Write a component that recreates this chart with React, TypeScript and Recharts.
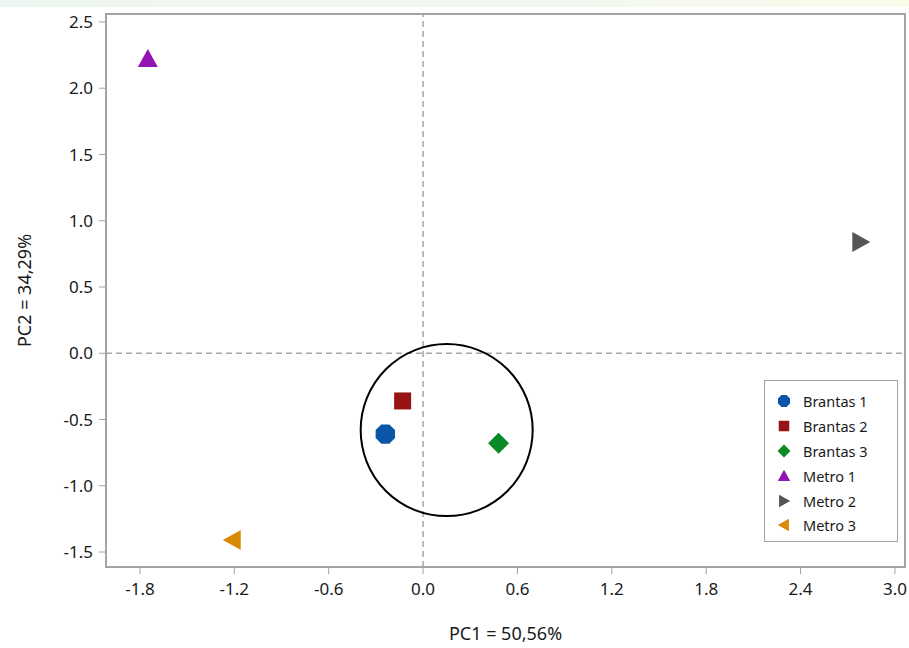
import {
  ScatterChart,
  Scatter,
  XAxis,
  YAxis,
  ReferenceLine,
  ReferenceArea,
  ReferenceDot,
  Label,
} from 'recharts';

// PCA scores (PC1, PC2)
const brantas1 = [{ pc1: -0.24, pc2: -0.61 }];
const brantas2 = [{ pc1: -0.13, pc2: -0.36 }];
const brantas3 = [{ pc1: 0.48, pc2: -0.68 }];
const metro1 = [{ pc1: -1.75, pc2: 2.22 }];
const metro2 = [{ pc1: 2.78, pc2: 0.84 }];
const metro3 = [{ pc1: -1.21, pc2: -1.41 }];

const xTicks = [-1.8, -1.2, -0.6, 0.0, 0.6, 1.2, 1.8, 2.4, 3.0];
const yTicks = [-1.5, -1.0, -0.5, 0.0, 0.5, 1.0, 1.5, 2.0, 2.5];
const xDomain: [number, number] = [-2.016, 3.064];
const yDomain: [number, number] = [-1.613, 2.56];

// cluster ring around the Brantas group
const ringCenter = { pc1: 0.15, pc2: -0.58 };

type Kind = 'octagon' | 'square' | 'diamond' | 'up' | 'right' | 'left';

const series: { name: string; color: string; kind: Kind; data: { pc1: number; pc2: number }[] }[] = [
  { name: 'Brantas 1', color: '#0a55a8', kind: 'octagon', data: brantas1 },
  { name: 'Brantas 2', color: '#981414', kind: 'square', data: brantas2 },
  { name: 'Brantas 3', color: '#088a26', kind: 'diamond', data: brantas3 },
  { name: 'Metro 1', color: '#9512b5', kind: 'up', data: metro1 },
  { name: 'Metro 2', color: '#555555', kind: 'right', data: metro2 },
  { name: 'Metro 3', color: '#d98a05', kind: 'left', data: metro3 },
];

const FONT = '"Noto Sans", "Open Sans", sans-serif';
const FRAME = '#a3a3a3';

function pts(list: number[][]) {
  return list.map((p) => p.join(',')).join(' ');
}

function marker(kind: Kind, cx: number, cy: number, s: number, color: string) {
  switch (kind) {
    case 'octagon': {
      const r = 10.5 * s;
      const p = Array.from({ length: 8 }, (_, i) => {
        const a = ((22.5 + 45 * i) * Math.PI) / 180;
        return [cx + r * Math.cos(a), cy + r * Math.sin(a)];
      });
      return <polygon points={pts(p)} fill={color} />;
    }
    case 'square': {
      const h = 8.5 * s;
      return <rect x={cx - h} y={cy - h} width={2 * h} height={2 * h} fill={color} />;
    }
    case 'diamond': {
      const h = 10.5 * s;
      return <polygon points={pts([[cx, cy - h], [cx + h, cy], [cx, cy + h], [cx - h, cy]])} fill={color} />;
    }
    case 'up':
      return <polygon points={pts([[cx, cy - 10 * s], [cx + 10 * s, cy + 8 * s], [cx - 10 * s, cy + 8 * s]])} fill={color} />;
    case 'right':
      return <polygon points={pts([[cx + 10 * s, cy], [cx - 8 * s, cy - 10 * s], [cx - 8 * s, cy + 10 * s]])} fill={color} />;
    case 'left':
      return <polygon points={pts([[cx - 10 * s, cy], [cx + 8 * s, cy - 10 * s], [cx + 8 * s, cy + 10 * s]])} fill={color} />;
  }
}

function LegendBox() {
  return (
    <div
      style={{
        position: 'absolute',
        left: 764,
        top: 380,
        boxSizing: 'border-box',
        width: 134,
        height: 162,
        border: `1.5px solid ${FRAME}`,
        background: '#fff',
        padding: '8px 0 0 10px',
        fontFamily: FONT,
        fontSize: 14.5,
        color: '#1a1a1a',
      }}
    >
      {series.map((s) => (
        <div key={s.name} style={{ display: 'flex', alignItems: 'center', height: 24.8 }}>
          <svg width={20} height={16} style={{ marginRight: 8 }}>
            {marker(s.kind, 9, 8, 0.62, s.color)}
          </svg>
          <span>{s.name}</span>
        </div>
      ))}
    </div>
  );
}

export default function App() {
  const tick = { fontSize: 17, fill: '#1a1a1a', fontFamily: FONT };
  return (
    <div style={{ position: 'absolute', left: 0, top: 0, width: 909, height: 648, background: '#fff' }}>
      <div
        style={{
          position: 'absolute',
          left: 0,
          top: 0,
          width: 909,
          height: 7,
          background: 'linear-gradient(90deg, #eef6f1 0%, #f2f8f0 60%, #fbfbea 100%)',
        }}
      />
      <ScatterChart width={909} height={648} margin={{ top: 14, right: 4, left: 0, bottom: 0 }}>
        <XAxis
          type="number"
          dataKey="pc1"
          domain={xDomain}
          ticks={xTicks}
          allowDataOverflow
          tickFormatter={(v: number) => v.toFixed(1)}
          tick={tick}
          tickSize={7}
          tickMargin={9}
          stroke={FRAME}
          height={81}
        >
          <Label value="PC1 = 50,56%" position="center" dy={26} style={{ fontSize: 18, fill: '#1a1a1a', fontFamily: FONT }} />
        </XAxis>
        <YAxis
          type="number"
          dataKey="pc2"
          domain={yDomain}
          ticks={yTicks}
          allowDataOverflow
          tickFormatter={(v: number) => v.toFixed(1)}
          tick={tick}
          tickSize={7}
          tickMargin={6}
          stroke={FRAME}
          width={106}
        >
          <Label
            value="PC2 = 34,29%"
            position="center"
            angle={-90}
            dx={-28}
            style={{ fontSize: 18, fill: '#1a1a1a', fontFamily: FONT, textAnchor: 'middle' }}
          />
        </YAxis>
        <ReferenceArea
          x1={xDomain[0]}
          x2={xDomain[1]}
          y1={yDomain[0]}
          y2={yDomain[1]}
          fill="none"
          stroke={FRAME}
          strokeWidth={2}
          fillOpacity={0}
        />
        <ReferenceLine x={0} stroke="#a8a8a8" strokeDasharray="6 4" strokeWidth={1.5} />
        <ReferenceLine y={0} stroke="#a8a8a8" strokeDasharray="6 4" strokeWidth={1.5} />
        <ReferenceDot
          x={ringCenter.pc1}
          y={ringCenter.pc2}
          r={86}
          fill="none"
          stroke="#000"
          strokeWidth={2}
        />
        {series.map((s) => (
          <Scatter
            key={s.name}
            name={s.name}
            data={s.data}
            isAnimationActive={false}
            shape={(p: any) => marker(s.kind, p.cx, p.cy, 1, s.color)}
          />
        ))}
      </ScatterChart>
      <LegendBox />
    </div>
  );
}
